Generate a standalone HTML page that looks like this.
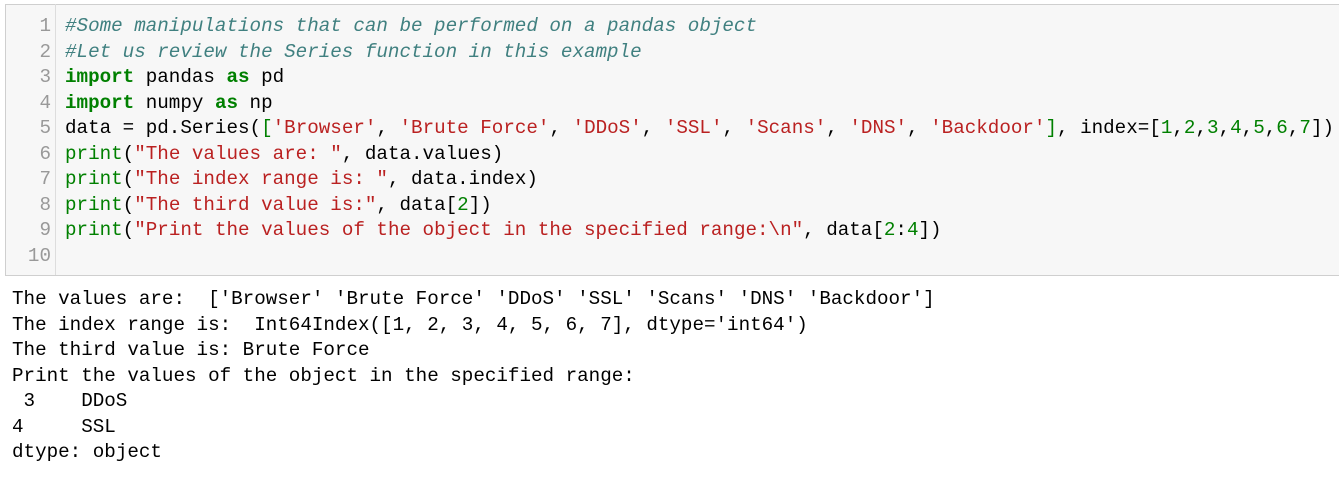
<!DOCTYPE html>
<html><head><meta charset="utf-8"><style>
body{margin:0;width:1339px;height:478px;background:#fff;overflow:hidden;position:relative;font-family:"Liberation Mono",monospace;font-size:19.23px;}
.cell{position:absolute;left:5px;top:4px;width:1340px;height:270px;background:#f7f7f7;border:1px solid #cfcfcf;}
.gut{position:absolute;left:5px;top:4px;width:50px;height:271px;border-right:1px solid #ddd;}
.l{position:absolute;white-space:pre;line-height:25.5px;height:25.5px;}
.n{position:absolute;left:0;width:46px;text-align:right;color:#999;white-space:pre;line-height:25.5px;}
.c{color:#408080;font-style:italic}
.k{color:#008000;font-weight:bold}
.s{color:#ba2121}
.g{color:#008000}
</style></head><body>
<div class="cell"></div>
<div class="gut"></div>
<div class="n" style="top:14px;left:5px">1</div>
<div class="n" style="top:39.5px;left:5px">2</div>
<div class="n" style="top:65px;left:5px">3</div>
<div class="n" style="top:90.5px;left:5px">4</div>
<div class="n" style="top:116px;left:5px">5</div>
<div class="n" style="top:141.5px;left:5px">6</div>
<div class="n" style="top:167px;left:5px">7</div>
<div class="n" style="top:192.5px;left:5px">8</div>
<div class="n" style="top:218px;left:5px">9</div>
<div class="n" style="top:243.5px;left:5px">10</div>
<div class="l" style="left:65px;top:14px"><span class="c">#Some manipulations that can be performed on a pandas object</span></div>
<div class="l" style="left:65px;top:39.5px"><span class="c">#Let us review the Series function in this example</span></div>
<div class="l" style="left:65px;top:65px"><span class="k">import</span> pandas <span class="k">as</span> pd</div>
<div class="l" style="left:65px;top:90.5px"><span class="k">import</span> numpy <span class="k">as</span> np</div>
<div class="l" style="left:65px;top:116px">data = pd.Series(<span class="g">[</span><span class="s">'Browser'</span>, <span class="s">'Brute Force'</span>, <span class="s">'DDoS'</span>, <span class="s">'SSL'</span>, <span class="s">'Scans'</span>, <span class="s">'DNS'</span>, <span class="s">'Backdoor'</span><span class="g">]</span>, index=[<span class="g">1</span>,<span class="g">2</span>,<span class="g">3</span>,<span class="g">4</span>,<span class="g">5</span>,<span class="g">6</span>,<span class="g">7</span>])</div>
<div class="l" style="left:65px;top:141.5px"><span class="g">print</span>(<span class="s">"The values are: "</span>, data.values)</div>
<div class="l" style="left:65px;top:167px"><span class="g">print</span>(<span class="s">"The index range is: "</span>, data.index)</div>
<div class="l" style="left:65px;top:192.5px"><span class="g">print</span>(<span class="s">"The third value is:"</span>, data[<span class="g">2</span>])</div>
<div class="l" style="left:65px;top:218px"><span class="g">print</span>(<span class="s">"Print the values of the object in the specified range:\n"</span>, data[<span class="g">2</span>:<span class="g">4</span>])</div>
<div class="l" style="left:12px;top:287px">The values are:  ['Browser' 'Brute Force' 'DDoS' 'SSL' 'Scans' 'DNS' 'Backdoor']</div>
<div class="l" style="left:12px;top:312.5px">The index range is:  Int64Index([1, 2, 3, 4, 5, 6, 7], dtype='int64')</div>
<div class="l" style="left:12px;top:338px">The third value is: Brute Force</div>
<div class="l" style="left:12px;top:363.5px">Print the values of the object in the specified range:</div>
<div class="l" style="left:12px;top:389px"> 3    DDoS</div>
<div class="l" style="left:12px;top:414.5px">4     SSL</div>
<div class="l" style="left:12px;top:440px">dtype: object</div>
</body></html>
